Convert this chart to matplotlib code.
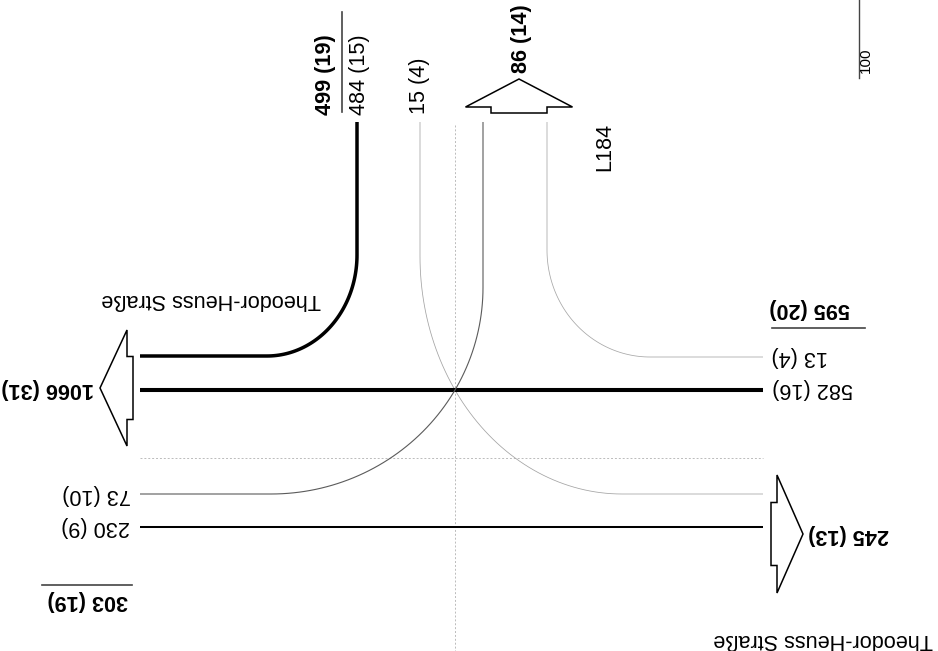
import numpy as np
import matplotlib.pyplot as plt
from matplotlib.patches import Polygon

plt.rcParams['font.family'] = ['Liberation Sans', 'DejaVu Sans']

# Verkehrsströme: Kfz/h und (SV/h)
moves = ['N_W', 'N_E', 'E_W', 'E_N', 'W_E', 'W_N']
kfz = [484, 15, 582, 13, 230, 73]
sv = [15, 4, 16, 4, 9, 10]
street_main = 'Theodor-Heuss Straße'
street_side = 'L184'
scale_label = '100'

q = dict(zip(moves, kfz))
s = dict(zip(moves, sv))


def summe(*names):
    return sum(q[n] for n in names), sum(s[n] for n in names)


nord_zu = summe('N_W', 'N_E')
nord_ab = summe('W_N', 'E_N')
west_ab = summe('N_W', 'E_W')
ost_zu = summe('E_W', 'E_N')
west_zu = summe('W_E', 'W_N')
ost_ab = summe('W_E', 'N_E')


def txt(v):
    return '%d (%d)' % v


def lw(v):
    return 0.5 + v / 240


def col(v):
    g = float(np.clip(0.72 - v / 200, 0, 1))
    return (g, g, g)


fig = plt.figure(figsize=(9.38, 6.51), dpi=100)
ax = fig.add_axes([0, 0, 1, 1])
ax.set_xlim(0, 938)
ax.set_ylim(651, 0)
ax.axis('off')

# Knotenpunkt (Kreuzungspunkt) und Ränder
xc, yc = 455, 390
x_li, x_re = 140, 763
y_ob = 122


def abbiegen(x_v, y0, x_h, y_h, x_end):
    # senkrecht von oben, Viertelellipse, dann waagerecht
    t = np.linspace(0, np.pi / 2, 60)
    cx, cy = x_h, y0
    rx, ry = x_v - x_h, y_h - y0
    xs = np.r_[x_v, cx + rx * np.cos(t), x_end]
    ys = np.r_[y_ob, cy + ry * np.sin(t), y_h]
    return xs, ys


def y0_durch_knoten(x_v, x_h, y_h):
    c = (xc - x_h) / (x_v - x_h)
    sn = np.sqrt(1 - c ** 2)
    return (yc - y_h * sn) / (1 - sn)


# Hilfslinien
ax.plot([xc, xc], [125, 651], color='#bbbbbb', lw=0.7, ls=(0, (2, 2)))
ax.plot([x_li, x_re], [458, 458], color='#bbbbbb', lw=0.7, ls=(0, (2, 2)))

# Ströme
paths = {
    'N_W': abbiegen(357, 255, 267, 356, x_li),
    'N_E': abbiegen(420, y0_durch_knoten(420, 622, 494), 622, 494, x_re),
    'E_N': abbiegen(547, 250, 650, 357, x_re),
    'W_N': abbiegen(483, y0_durch_knoten(483, 271, 494), 271, 494, x_li),
    'E_W': ([x_re, x_li], [yc, yc]),
    'W_E': ([x_li, x_re], [527, 527]),
}
for m in moves:
    xs, ys = paths[m]
    ax.plot(xs, ys, color=col(q[m]), lw=lw(q[m]), solid_capstyle='butt')


# Pfeile der Ausfahrten
def pfeil(tip, d, head_l, head_w, stem_l, stem_w):
    u = np.array([[0, 0], [-head_l, head_w], [-head_l, stem_w],
                  [-head_l - stem_l, stem_w], [-head_l - stem_l, -stem_w],
                  [-head_l, -stem_w], [-head_l, -head_w]], float)
    d = np.array(d, float)
    n = np.array([-d[1], d[0]])
    pts = np.array(tip) + u[:, :1] * d + u[:, 1:] * n
    ax.add_patch(Polygon(pts, closed=True, fc='white', ec='black', lw=1.1))


pfeil((100, 388), (-1, 0), 27, 58, 6, 31.5)
pfeil((803, 534), (1, 0), 26, 59, 6, 31.5)
pfeil((519, 79), (0, -1), 28, 53.5, 6, 28)

fs = 15.6
# Nordarm
ax.text(326, 115, txt(nord_zu), rotation=90, ha='center', va='bottom',
        fontsize=fs, fontweight='bold')
ax.plot([342, 342], [12, 112], color='#444444', lw=1.2)
ax.text(359, 115, txt((q['N_W'], s['N_W'])), rotation=90, ha='center',
        va='bottom', fontsize=fs)
ax.text(420, 114, txt((q['N_E'], s['N_E'])), rotation=90, ha='center',
        va='bottom', fontsize=fs)
ax.text(521, 73, txt(nord_ab), rotation=90, ha='center', va='bottom',
        fontsize=fs, fontweight='bold')
ax.text(605, 171, street_side, rotation=90, ha='center', va='bottom',
        fontsize=fs)

# Westarm (kopfstehend)
ax.text(211, 300, street_main, rotation=180, ha='center', va='center',
        fontsize=fs)
ax.text(48, 388, txt(west_ab), rotation=180, ha='center', va='center',
        fontsize=fs, fontweight='bold')
ax.text(97, 495, txt((q['W_N'], s['W_N'])), rotation=180, ha='center',
        va='center', fontsize=fs)
ax.text(96, 527, txt((q['W_E'], s['W_E'])), rotation=180, ha='center',
        va='center', fontsize=fs)
ax.plot([42, 132], [585, 585], color='#444444', lw=1.2)
ax.text(88, 600, txt(west_zu), rotation=180, ha='center', va='center',
        fontsize=fs, fontweight='bold')

# Ostarm (kopfstehend)
ax.text(810, 308, txt(ost_zu), rotation=180, ha='center', va='center',
        fontsize=fs, fontweight='bold')
ax.plot([772, 865], [328, 328], color='#444444', lw=1.2)
ax.text(800, 357, txt((q['E_N'], s['E_N'])), rotation=180, ha='center',
        va='center', fontsize=fs)
ax.text(813, 388, txt((q['E_W'], s['E_W'])), rotation=180, ha='center',
        va='center', fontsize=fs)
ax.text(849, 535, txt(ost_ab), rotation=180, ha='center', va='center',
        fontsize=fs, fontweight='bold')
ax.text(823, 640, street_main, rotation=180, ha='center', va='center',
        fontsize=fs)

# Maßstab
ax.plot([859, 859], [0, 78], color='#444444', lw=1.0)
ax.text(866, 73, scale_label, rotation=90, ha='center', va='bottom',
        fontsize=11)

fig.savefig('out.png', dpi=100)
